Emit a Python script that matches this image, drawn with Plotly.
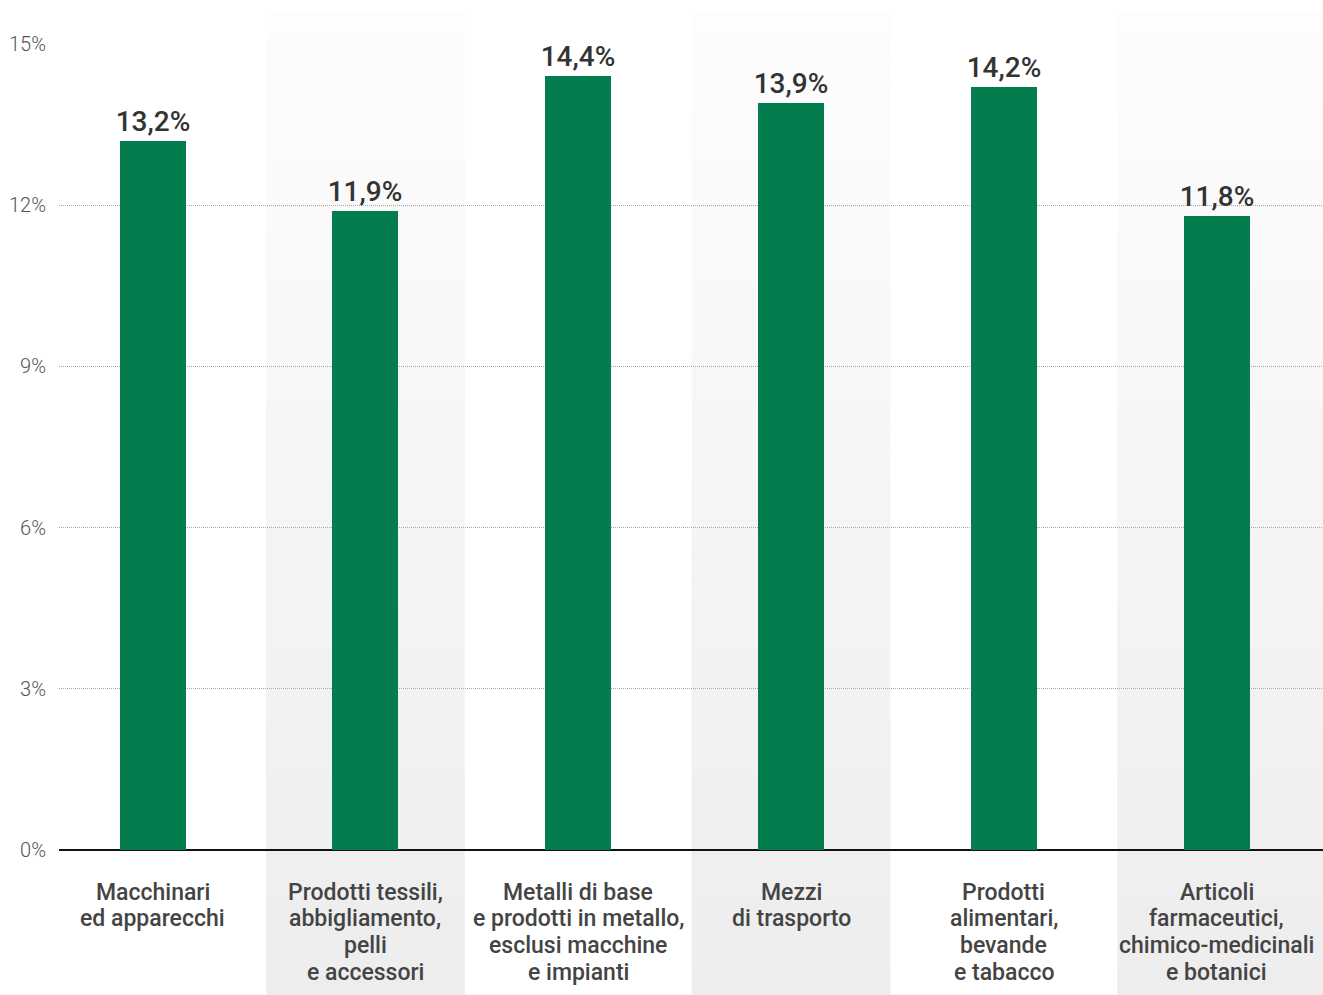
import plotly.graph_objects as go

categories = [
    ["Macchinari", "ed apparecchi"],
    ["Prodotti tessili,", "abbigliamento,", "pelli", "e accessori"],
    ["Metalli di base", "e prodotti in metallo,", "esclusi macchine", "e impianti"],
    ["Mezzi", "di trasporto"],
    ["Prodotti", "alimentari,", "bevande", "e tabacco"],
    ["Articoli", "farmaceutici,", "chimico-medicinali", "e botanici"],
]
values = [13.2, 11.9, 14.4, 13.9, 14.2, 11.8]
y_ticks = [0, 3, 6, 9, 12, 15]
y_ticklabels = ["0%", "3%", "6%", "9%", "12%", "15%"]

labels = [f"{v:.1f}".replace(".", ",") + "%" for v in values]
xs = list(range(len(categories)))

W, H = 1323, 995
mt, mb, ml, mr = 44, 145, 59, 0
plot_h = H - mt - mb

fig = go.Figure()
fig.add_trace(go.Bar(
    x=xs, y=values, width=0.31,
    marker=dict(color="#037d4e", line=dict(width=0)),
    text=labels, textposition="outside", cliponaxis=False, constraintext="none",
    textfont=dict(family="Roboto", size=28, color="#333333", weight=500),
    hoverinfo="skip",
))

# gradient shaded bands behind alternate categories
shapes = []
y_bot = -mb / plot_h
y_top = 1 + (mt - 13) / plot_h
N = 40
c_bot, c_top = 0xED, 0xFD
for i in [1, 3, 5]:
    x0 = i - 0.467
    x1 = i + 0.467 if i != 5 else 6.5
    for k in range(N):
        ya = y_bot + (y_top - y_bot) * k / N
        yb = y_bot + (y_top - y_bot) * (k + 1) / N
        t = (k + 0.5) / N
        c = round(c_bot + (c_top - c_bot) * t)
        col = f"rgb({c},{c},{c})"
        shapes.append(dict(type="rect", xref="x", yref="paper", x0=x0, x1=x1,
                           y0=ya, y1=yb + 0.001, fillcolor=col, line=dict(width=0),
                           layer="below"))

# multi-line category labels (one annotation per line for tighter line spacing)
annotations = []
for i, lines in enumerate(categories):
    for k, line in enumerate(lines):
        annotations.append(dict(
            x=i, xref="x", y=0, yref="paper", text=line, showarrow=False,
            xanchor="center", yanchor="middle", yshift=-(42 + 26.7 * k),
            font=dict(family="Roboto", size=23, color="#444444", weight=500),
        ))

fig.update_layout(
    width=W, height=H,
    margin=dict(t=mt, b=mb, l=ml, r=mr, pad=0),
    paper_bgcolor="white", plot_bgcolor="rgba(0,0,0,0)",
    showlegend=False, bargap=0,
    shapes=shapes, annotations=annotations,
    xaxis=dict(
        range=[-0.44, 5.5], tickmode="array", tickvals=xs,
        ticktext=["" for _ in xs],
        showgrid=False, zeroline=False, showline=False, ticks="",
        fixedrange=True,
    ),
    yaxis=dict(
        range=[0, 15], tickmode="array", tickvals=y_ticks, ticktext=y_ticklabels,
        showgrid=True, gridcolor="#a8a8a8", griddash="1px,1px", gridwidth=1,
        zeroline=True, zerolinecolor="#111111", zerolinewidth=2,
        showline=False, ticks="",
        tickfont=dict(family="Roboto", size=20, color="#555555", weight=300),
        ticklabelstandoff=12, fixedrange=True,
    ),
)

fig.write_html(
    "out.html",
    config={"displayModeBar": False},
    post_script="document.body.style.margin='0';document.body.style.overflow='hidden';",
)
